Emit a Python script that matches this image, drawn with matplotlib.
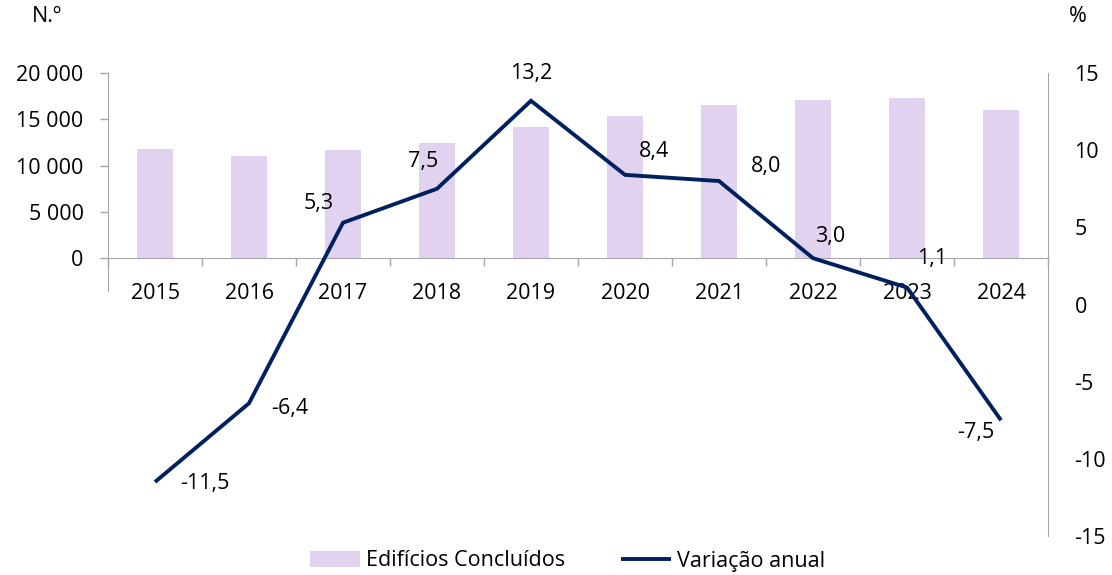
import numpy as np
import matplotlib
matplotlib.use("Agg")
import matplotlib.pyplot as plt
from matplotlib.ticker import FuncFormatter, FixedLocator

# data
anos = ["2015", "2016", "2017", "2018", "2019", "2020", "2021", "2022", "2023", "2024"]
edificios = [11800, 11050, 11650, 12450, 14150, 15350, 16550, 17080, 17300, 16000]
variacao = [-11.5, -6.4, 5.3, 7.5, 13.2, 8.4, 8.0, 3.0, 1.1, -7.5]

# label offsets in pixels (dx, dy) from each line point
offsets = [(50, -2), (41, -5), (-24, 19), (-14, 27), (0, 27),
           (29, 23), (47, 15), (17, 22), (25, 29), (-25, -12)]

plt.rcParams['font.family'] = ['Open Sans', 'DejaVu Sans']
plt.rcParams['font.size'] = 15.5

bar_col = "#E1D3EF"
line_col = "#002060"
axis_col = "#A6A6A6"

fig = plt.figure(figsize=(11.12, 5.75), dpi=100)
ax = fig.add_axes([108/1112, 1 - 536/575, 940/1112, 463/575])
ax2 = ax.twinx()

x = np.arange(len(anos))
bars = ax.bar(x, edificios, width=0.39, color=bar_col, label="Edifícios Concluídos", zorder=2)
ax.set_xlim(-0.5, len(anos) - 0.5)
ax.set_ylim(-30000, 20000)

line, = ax2.plot(x, variacao, color=line_col, lw=2.8, label="Variação anual",
                 solid_capstyle='butt', solid_joinstyle='miter', zorder=3)
ax2.set_ylim(-15, 15)

# left axis: only non-negative labels, spine cut short like the original
ax.yaxis.set_major_locator(FixedLocator([0, 5000, 10000, 15000, 20000]))
ax.yaxis.set_major_formatter(FuncFormatter(lambda v, p: f"{int(v):,}".replace(",", " ")))
ax.tick_params(axis='y', length=5.5, width=1, color=axis_col, pad=12)
ax.spines['left'].set_bounds(-3560, 20000)
ax.spines['left'].set_color(axis_col)
ax.spines['top'].set_visible(False)
ax.spines['right'].set_visible(False)

# category axis sits on zero of the left scale
ax.spines['bottom'].set_position(('data', 0))
ax.spines['bottom'].set_color(axis_col)
ax.set_xticks(x)
ax.set_xticklabels(anos)
ax.set_xticks(np.arange(-0.5, len(anos)), minor=True)
ax.tick_params(axis='x', which='major', length=0, pad=18)
ax.tick_params(axis='x', which='minor', length=6, width=1, color=axis_col)

# right axis
ax2.set_yticks([-15, -10, -5, 0, 5, 10, 15])
ax2.tick_params(axis='y', length=0, pad=19)
for s in ['left', 'top', 'bottom']:
    ax2.spines[s].set_visible(False)
ax2.spines['right'].set_color(axis_col)
ax2.yaxis.set_major_formatter(FuncFormatter(lambda v, p: f"{int(v)}"))

for xi, v, (dx, dy) in zip(x, variacao, offsets):
    ax2.annotate(f"{v:.1f}".replace(".", ","), (xi, v), xytext=(dx, dy),
                 textcoords='offset pixels', ha='center', va='center', zorder=4)

fig.text(47/1112, 1 - 17/575, "N.º", ha='center', va='center')
fig.text(1078/1112, 1 - 17/575, "%", ha='center', va='center')

fig.legend(handles=[bars, line], loc='center', bbox_to_anchor=(568/1112, 1 - 561/575),
           ncol=2, frameon=False, handlelength=2.3, handletextpad=0.3,
           columnspacing=2.6, borderpad=0)

fig.savefig("out.png", dpi=100)
